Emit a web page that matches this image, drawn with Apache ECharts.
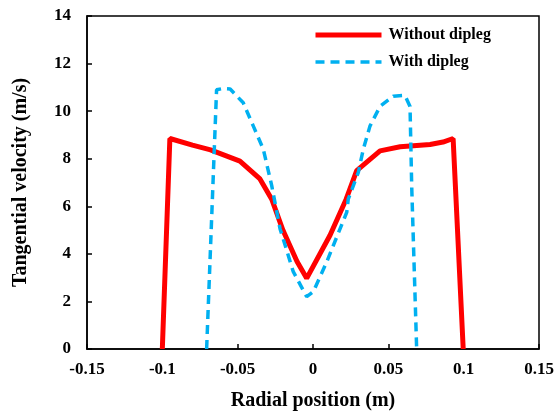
<!DOCTYPE html>
<html>
<head>
<meta charset="utf-8">
<script src="https://cdn.jsdelivr.net/npm/echarts@6/dist/echarts.min.js"></script>
<style>
  html, body { margin: 0; padding: 0; background: #fff; }
  #chart_line { width: 557px; height: 416px; }
</style>
</head>
<body>
<div id="chart_line"></div>
<script>
// data
let withoutX = [-0.1, -0.095, -0.08, -0.068, -0.0485, -0.0352, -0.0274, -0.02, -0.0106, -0.0042,
                0.0113, 0.022, 0.029, 0.0445, 0.0578, 0.0777, 0.0863, 0.093, 0.0997];
let withoutY = [0, 8.85, 8.57, 8.37, 7.9, 7.15, 6.3, 5.0, 3.68, 2.97,
                4.78, 6.3, 7.5, 8.33, 8.5, 8.6, 8.7, 8.85, 0];

let withX = [-0.0706, -0.064, -0.06, -0.055, -0.0463, -0.0396, -0.033, -0.0274, -0.0219, -0.0131, -0.0042,
             0.0002, 0.0091, 0.0224, 0.0234, 0.0301, 0.0334, 0.0378, 0.0445, 0.0533, 0.061, 0.0644, 0.0655, 0.0688];
let withY = [0, 10.9, 10.95, 10.93, 10.35, 9.37, 8.4, 6.87, 5.06, 3.25, 2.2,
             2.41, 3.66, 5.75, 6.3, 7.43, 8.4, 9.37, 10.2, 10.63, 10.66, 10.2, 6.87, 0];

let seriesNames = ['Without dipleg', 'With dipleg'];

function pairs(xs, ys) {
    return xs.map(function (x, i) { return [x, ys[i]]; });
}

let font = "'Times New Roman', 'Liberation Serif', serif";

let redLine = { color: '#FF0000', width: 5 };
let blueLine = { color: '#00B0F0', width: 3.5, type: [9, 6] };

let myChart = echarts.init(document.getElementById("chart_line"));

let option = {
    animation: false,
    grid: {
        left: 87, right: 18, top: 16, bottom: 65,
        show: true, borderColor: '#000', borderWidth: 1.5
    },
    legend: {
        orient: 'vertical',
        left: 313, top: 27, padding: 0,
        itemWidth: 66, itemHeight: 14, itemGap: 11,
        data: [
            { name: seriesNames[0], lineStyle: { width: 5 } },
            { name: seriesNames[1], lineStyle: { width: 3.5 } }
        ],
        itemStyle: { opacity: 0 },
        textStyle: { fontFamily: font, fontWeight: 'bold', fontSize: 16, color: '#000', lineHeight: 16, padding: [0, 0, 0, 2] }
    },
    xAxis: {
        type: 'value',
        min: -0.15, max: 0.15, interval: 0.05,
        name: 'Radial position (m)',
        nameLocation: 'middle', nameGap: 42,
        nameTextStyle: { fontFamily: font, fontWeight: 'bold', fontSize: 20, color: '#000' },
        axisLine: { onZero: false, lineStyle: { color: '#000', width: 1.5 } },
        axisTick: { inside: true, length: 5, lineStyle: { color: '#000', width: 1.5 } },
        axisLabel: { fontFamily: font, fontWeight: 'bold', fontSize: 17, color: '#000', margin: 12,
                     formatter: function (v) { return String(Math.round(v * 100) / 100); } },
        splitLine: { show: false }
    },
    yAxis: {
        type: 'value',
        min: 0, max: 14, interval: 2,
        name: 'Tangential velocity (m/s)',
        nameLocation: 'middle', nameGap: 56,
        nameTextStyle: { fontFamily: font, fontWeight: 'bold', fontSize: 20, color: '#000' },
        axisLine: { show: true, onZero: false, lineStyle: { color: '#000', width: 1.5 } },
        axisTick: { show: true, inside: true, length: 5, lineStyle: { color: '#000', width: 1.5 } },
        axisLabel: { fontFamily: font, fontWeight: 'bold', fontSize: 17, color: '#000', margin: 16 },
        splitLine: { show: false }
    },
    series: [{
        name: seriesNames[0],
        type: 'line',
        data: pairs(withoutX, withoutY),
        showSymbol: false, symbol: 'none',
        lineStyle: redLine,
        itemStyle: { color: '#FF0000' },
        z: 3
    }, {
        name: seriesNames[1],
        type: 'line',
        data: pairs(withX, withY),
        showSymbol: false, symbol: 'none',
        lineStyle: blueLine,
        itemStyle: { color: '#00B0F0' },
        z: 4
    }]
};

myChart.setOption(option);
</script>
</body>
</html>
